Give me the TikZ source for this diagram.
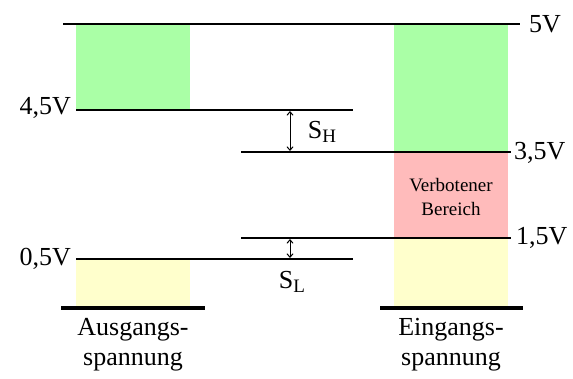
\documentclass[tikz,border=0pt]{standalone}
\usepackage{fontspec}
\setmainfont{Liberation Serif}
\usetikzlibrary{arrows.meta}
\definecolor{hgreen}{HTML}{AAFFA6}
\definecolor{hred}{HTML}{FFBBBB}
\definecolor{hyellow}{HTML}{FFFFCC}
\newcommand{\subx}[1]{\raisebox{-0.35ex}{\fontsize{19}{19}\selectfont #1}}
\tikzset{
  level/.style={line width=1.5pt,black},
  base/.style={line width=3.5pt,black},
  lab/.style={font=\fontsize{26}{28}\selectfont, inner sep=0pt},
  caption/.style={font=\fontsize{26}{30}\selectfont, align=center, inner sep=0pt},
  small/.style={font=\fontsize{19}{24}\selectfont, align=center, inner sep=0pt},
  dim/.style={line width=1pt,{Straight Barb[length=3.5pt,width=6pt]}-{Straight Barb[length=3.5pt,width=6pt]}}
}
\begin{document}
\begin{tikzpicture}[x=1pt,y=-1pt]
\useasboundingbox (0,0) rectangle (573,378);
% fills
\fill[hgreen] (76,25) rectangle (190,110);
\fill[hyellow] (76,259) rectangle (190,307);
\fill[hgreen] (394,25) rectangle (508,152);
\fill[hred] (394,152) rectangle (508,238);
\fill[hyellow] (394,238) rectangle (508,307);
% level coordinates
\coordinate (t1) at (63,24);  \coordinate (t2) at (520,24);
\coordinate (a1) at (76,110); \coordinate (a2) at (353,110);
\coordinate (b1) at (241,152); \coordinate (b2) at (511,152);
\coordinate (c1) at (241,238); \coordinate (c2) at (511,238);
\coordinate (d1) at (76,259); \coordinate (d2) at (353,259);
\coordinate (e1) at (61,308); \coordinate (e2) at (205,308);
\coordinate (f1) at (380,308); \coordinate (f2) at (523,308);
\draw[level] (t1) -- (t2);
\draw[level] (a1) -- (a2);
\draw[level] (b1) -- (b2);
\draw[level] (c1) -- (c2);
\draw[level] (d1) -- (d2);
\draw[base] (e1) -- (e2);
\draw[base] (f1) -- (f2);
% dimension arrows
\coordinate (sh1) at (290,111); \coordinate (sh2) at (290,151);
\coordinate (sl1) at (290,239); \coordinate (sl2) at (290,258);
\draw[dim] (sh1) -- (sh2);
\draw[dim] (sl1) -- (sl2);
% labels
\node[lab,anchor=west] (v5) at (529,24) {5V};
\node[lab,anchor=east] (v45) at (71,108) {4,5V};
\node[lab,anchor=west] (v35) at (514,153) {3,5V};
\node[lab,anchor=west] (v15) at (516,238) {1,5V};
\node[lab,anchor=east] (v05) at (71,259) {0,5V};
\node[lab] (sh) at (322,132) {S\subx{H}};
\node[lab] (sl) at (292,282) {S\subx{L}};
\node[small] (vb) at (451,197) {Verbotener\\Bereich};
\node[caption] (aus) at (133,345) {Ausgangs-\\spannung};
\node[caption] (ein) at (451,345) {Eingangs-\\spannung};
\end{tikzpicture}
\end{document}
